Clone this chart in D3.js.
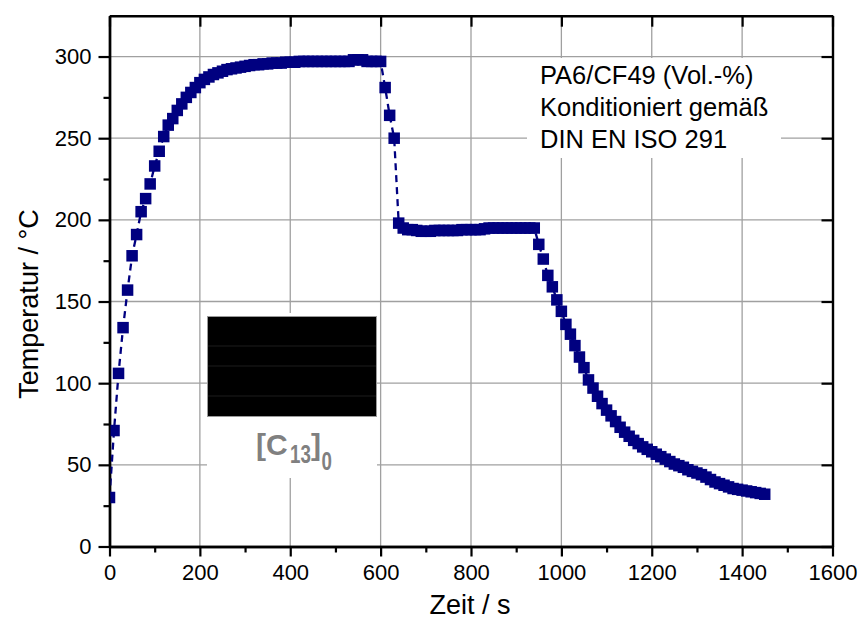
<html>
<head>
<meta charset="utf-8">
<style>
  body { margin: 0; background: #fff; }
  text { font-family: Arial, "Liberation Sans", sans-serif; }
</style>
</head>
<body>
  <div id="chart"></div>
  <script src="https://cdn.jsdelivr.net/npm/d3@7/dist/d3.min.js"></script>
  <script>
    // measured time (s) and temperature (°C)
    var zeit = [0,10,20,30,40,50,60,70,80,90,100,110,120,130,140,150,160,170,180,190,
      200,210,220,230,240,250,260,270,280,290,300,310,320,330,340,350,360,370,380,390,
      400,410,420,430,440,450,460,470,480,490,500,510,520,530,540,550,560,570,580,590,
      600,610,620,630,640,650,660,670,680,690,700,710,720,730,740,750,760,770,780,790,
      800,810,820,830,840,850,860,870,880,890,900,910,920,930,940,950,960,970,980,990,
      1000,1010,1020,1030,1040,1050,1060,1070,1080,1090,1100,1110,1120,1130,1140,1150,1160,1170,1180,1190,
      1200,1210,1220,1230,1240,1250,1260,1270,1280,1290,1300,1310,1320,1330,1340,1350,1360,1370,1380,1390,
      1400,1410,1420,1430,1440,1450];
    var temperatur = [30,71,106,134,157,178,191,205,213,222,233,242,251,258,262,267,271,275,278,281,
      284,286,287.5,289,290,291,292,292.5,293,293.5,294,294.5,295,295,295.5,295.5,296,296,296,296.5,
      296.5,296.5,297,297,297,297,297,297,297,297,297,297,297,297,298,298,298,297,297,297,
      297,281,264,250,198,195,194,194,193.5,193,193,193,193.5,193.5,193.5,193.5,193.5,193.5,194,194,
      194,194,194,194.5,195,195,195,195,195,195,195,195,195,195,195,185,176,166,159,151,
      144,136,130,123,116,109.5,102,97,92,87.5,83.5,80,76.5,73,70,67.5,65,63,61,59.5,
      58,56.5,55,53.5,52,50.5,49.5,48.5,47,46,45,44,42.5,41,39.5,38.5,37.5,36.5,35.5,35,
      34.5,34,33.5,33,32.5,32];

    var xMajor = [0,200,400,600,800,1000,1200,1400,1600];
    var xMinor = [100,300,500,700,900,1100,1300,1500];
    var yMajor = [0,50,100,150,200,250,300];
    var yMinor = [25,75,125,175,225,275];
    var infoLines = ['PA6/CF49 (Vol.-%)', 'Konditioniert gemäß', 'DIN EN ISO 291'];

    var svgW = 861, svgH = 623;
    var pL = 109.5, pR = 832.5, pT = 15.7, pB = 546.5;

    var svg = d3.select('#chart').append('svg')
      .attr('width', svgW)
      .attr('height', svgH);

    var x = d3.scaleLinear().domain([0, 1600]).range([pL, pR]);
    var y = d3.scaleLinear().domain([0, 325]).range([pB, pT]);

    var data = zeit.map(function(t, i) { return {t: t, v: temperatur[i]}; });

    // grid
    var grid = svg.append('g').attr('stroke', '#a0a0a0').attr('stroke-width', 1.3);
    grid.selectAll('.gx').data(xMajor.slice(1, -1)).enter().append('line')
      .attr('x1', function(d) { return x(d); }).attr('x2', function(d) { return x(d); })
      .attr('y1', pT).attr('y2', pB);
    grid.selectAll('.gy').data(yMajor.slice(1)).enter().append('line')
      .attr('x1', pL).attr('x2', pR)
      .attr('y1', function(d) { return y(d); }).attr('y2', function(d) { return y(d); });

    // white boxes over the grid
    svg.append('rect').attr('x', 527).attr('y', 58).attr('width', 254).attr('height', 100).attr('fill', '#fff');
    svg.append('rect').attr('x', 207).attr('y', 313).attr('width', 170).attr('height', 165).attr('fill', '#fff');

    // inset picture placeholder
    svg.append('rect').attr('x', 207.5).attr('y', 316.5).attr('width', 169).attr('height', 100)
      .attr('fill', '#000').attr('stroke', '#9a9a9a').attr('stroke-width', 1);
    [346, 366, 396].forEach(function(yy) {
      svg.append('line').attr('x1', 208).attr('x2', 376).attr('y1', yy).attr('y2', yy)
        .attr('stroke', '#1c1c1c').attr('stroke-width', 1);
    });

    var lab = svg.append('g').attr('fill', '#808080').attr('font-weight', 'bold');
    lab.append('text').attr('x', 256).attr('y', 455).attr('font-size', 30).text('[C');
    lab.append('text').attr('transform', 'translate(290,463) scale(0.72,1)').attr('font-size', 26).text('13');
    lab.append('text').attr('x', 311).attr('y', 455).attr('font-size', 30).text(']');
    lab.append('text').attr('transform', 'translate(321.5,470) scale(0.72,1)').attr('font-size', 26).text('0');

    // info text
    svg.append('g').selectAll('text').data(infoLines).enter().append('text')
      .attr('x', 540)
      .attr('y', function(d, i) { return 84 + i * 32; })
      .attr('font-size', 25.5)
      .attr('fill', '#000')
      .text(function(d) { return d; });

    // axes
    function styleAxis(g) {
      g.select('.domain').attr('stroke', '#000').attr('stroke-width', 2.4);
      g.selectAll('.tick line').attr('stroke', '#000').attr('stroke-width', 2.2);
      g.selectAll('.tick text').attr('font-size', 22).attr('fill', '#000')
        .attr('font-family', 'Arial, "Liberation Sans", sans-serif');
    }

    svg.append('g').attr('transform', 'translate(0,' + pB + ')')
      .call(d3.axisBottom(x).tickValues(xMinor).tickSize(6).tickSizeOuter(0).tickFormat(''))
      .call(styleAxis);
    svg.append('g').attr('transform', 'translate(0,' + pB + ')')
      .call(d3.axisBottom(x).tickValues(xMajor).tickSize(10).tickSizeOuter(0).tickPadding(8).tickFormat(d3.format('d')))
      .call(styleAxis);
    svg.append('g').attr('transform', 'translate(' + pL + ',0)')
      .call(d3.axisLeft(y).tickValues(yMinor).tickSize(6).tickSizeOuter(0).tickFormat(''))
      .call(styleAxis);
    svg.append('g').attr('transform', 'translate(' + pL + ',0)')
      .call(d3.axisLeft(y).tickValues(yMajor).tickSize(11).tickSizeOuter(0).tickPadding(7).tickFormat(d3.format('d')))
      .call(styleAxis);
    svg.append('g').attr('transform', 'translate(0,' + pT + ')')
      .call(d3.axisTop(x).tickValues(xMajor).tickSize(-11).tickSizeOuter(0).tickFormat(''))
      .call(styleAxis);
    svg.append('g').attr('transform', 'translate(' + pR + ',0)')
      .call(d3.axisRight(y).tickValues(yMajor).tickSize(-11).tickSizeOuter(0).tickFormat(''))
      .call(styleAxis);

    // data
    svg.append('clipPath').attr('id', 'plotclip').append('rect')
      .attr('x', pL + 1).attr('y', pT).attr('width', pR - pL).attr('height', pB - pT);
    var plot = svg.append('g').attr('clip-path', 'url(#plotclip)');

    var line = d3.line().x(function(d) { return x(d.t); }).y(function(d) { return y(d.v); });
    plot.append('path').datum(data)
      .attr('d', line)
      .attr('fill', 'none')
      .attr('stroke', '#000080')
      .attr('stroke-width', 2.3)
      .attr('stroke-dasharray', '7,5');

    var ms = 11.5;
    plot.selectAll('rect.m').data(data).enter().append('rect')
      .attr('class', 'm')
      .attr('x', function(d) { return x(d.t) - ms / 2; })
      .attr('y', function(d) { return y(d.v) - ms / 2; })
      .attr('width', ms).attr('height', ms)
      .attr('fill', '#000080');

    // axis titles
    svg.append('text').attr('x', 470).attr('y', 614).attr('text-anchor', 'middle')
      .attr('font-size', 27).text('Zeit / s');
    svg.append('text').attr('transform', 'translate(38,304) rotate(-90)').attr('text-anchor', 'middle')
      .attr('font-size', 27).text('Temperatur / °C');
  </script>
</body>
</html>
